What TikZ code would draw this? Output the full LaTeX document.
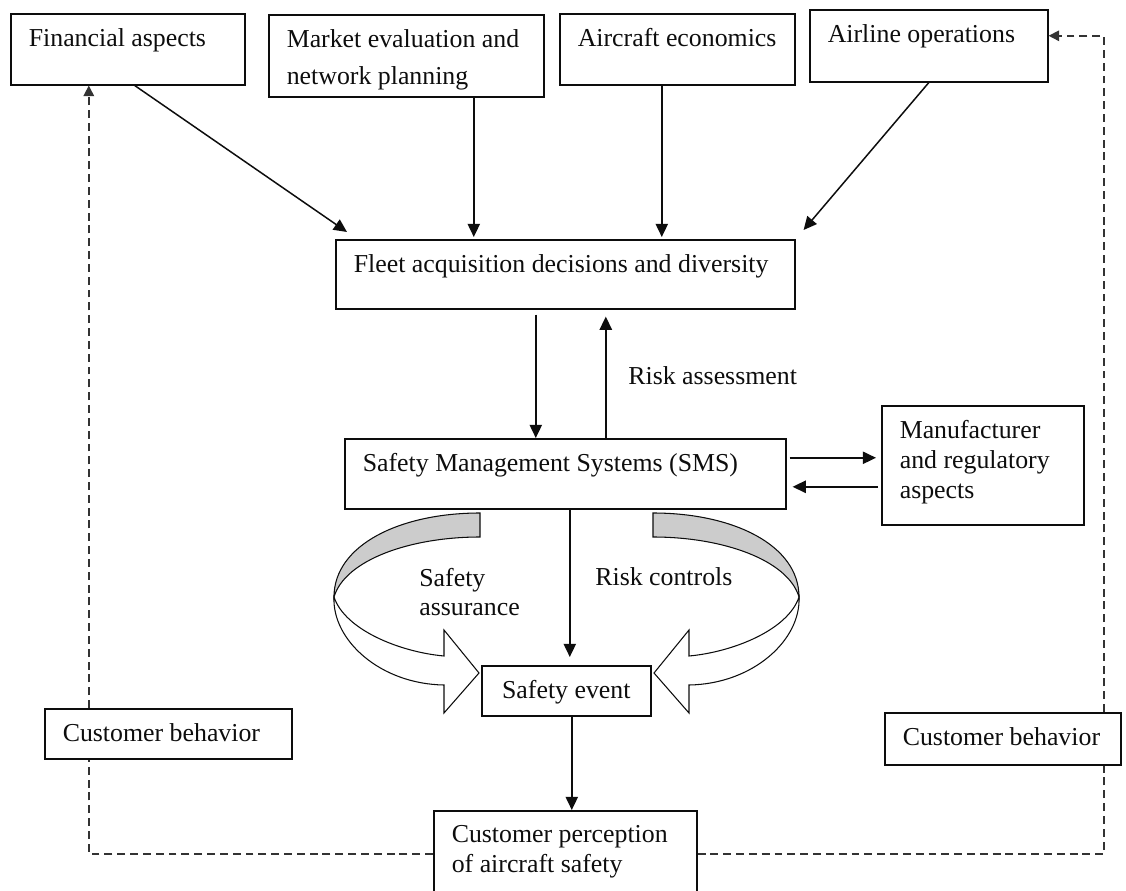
\documentclass[tikz,border=0pt]{standalone}
\usepackage{fontspec}
\setmainfont{Liberation Serif}
\usepackage{tikz}
\usetikzlibrary{arrows.meta,positioning}
\definecolor{FigureInk}{gray}{0.05}
\definecolor{FeedbackInk}{gray}{0.2}
\definecolor{BandShade}{gray}{0.8}
\newcommand{\BoxText}[3]{%
  \parbox[t][\dimexpr#2cm-0.6cm\relax][t]{\dimexpr#1cm-0.72cm\relax}{#3}%
}
\tikzset{
  diagram/.style={font=\fontsize{14.7}{17}\selectfont,text=FigureInk},
  block/.style={draw=FigureInk,line width=0.9pt,anchor=north west,inner xsep=0.36cm,inner ysep=0.3cm},
  flow/.style={-{Triangle[length=7.5pt,width=7pt]},line width=0.85pt,draw=FigureInk},
  feedback/.style={draw=FeedbackInk,line width=0.9pt,dash pattern=on 4.5pt off 2.8pt},
  feedtip/.style={-{Triangle[length=6pt,width=6pt]}},
  band/.style={draw=FigureInk,line width=0.6pt},
  note/.style={inner sep=0pt,anchor=west,align=left},
}
\begin{document}
\begin{tikzpicture}[diagram]
  \useasboundingbox (0,0) rectangle (22.52,17.8);

  \node[block] (fin) at (0.2,17.54) {\BoxText{4.68}{1.42}{Financial aspects}};
  \node[block] (mkt) at (5.36,17.52) {\BoxText{5.5}{1.64}{Market evaluation and\\[4pt]network planning}};
  \node[block] (acon) at (11.18,17.54) {\BoxText{4.7}{1.42}{Aircraft economics}};
  \node[block] (air) at (16.18,17.62) {\BoxText{4.76}{1.44}{Airline operations}};

  \node[block] (fleet) at (6.70,13.02) {\BoxText{9.18}{1.38}{Fleet acquisition decisions and diversity}};
  \node[block] (sms) at (6.88,9.04) {\BoxText{8.82}{1.40}{Safety Management Systems (SMS)}};
  \node[block] (manu) at (17.62,9.70) {\BoxText{4.04}{2.38}{Manufacturer\\and regulatory\\aspects}};
  \node[block] (ev) at (9.62,4.50) {\BoxText{3.38}{1.0}{\centering Safety event}};
  \node[block] (cbl) at (0.88,3.64) {\BoxText{4.94}{1.0}{Customer behavior}};
  \node[block] (cbr) at (17.68,3.56) {\BoxText{4.72}{1.04}{Customer behavior}};
  \node[block] (perc) at (8.66,1.60) {\BoxText{5.26}{1.9}{Customer perception\\of aircraft safety}};

  \node[note] (riskassess) at (12.56,10.28) {Risk assessment};
  \node[note] (riskctrl) at (11.9,6.26) {Risk controls};
  \node[note] (assure) at (8.38,5.96) {Safety\\assurance};

  \foreach \side in {1,-1}{
    \begin{scope}[shift={(11.33,0)},xscale=\side]
      \filldraw[band,fill=BandShade] (-1.73,7.54) .. controls (-3.33,7.54) and (-4.65,6.90) .. (-4.65,5.86)
        .. controls (-4.43,6.60) and (-3.13,7.06) .. (-1.73,7.06) -- cycle;
      \filldraw[band,fill=white] (-4.65,5.86) .. controls (-4.43,5.20) and (-3.33,4.76) .. (-2.45,4.68)
        -- (-2.45,5.20) -- (-1.75,4.34) -- (-2.45,3.54) -- (-2.45,4.10)
        .. controls (-3.73,4.12) and (-4.69,5.0) .. (-4.65,5.86) -- cycle;
    \end{scope}
  }

  \draw[flow] ([xshift=0.14cm]fin.south) -- ([shift={(0.24,0.14)}]fleet.north west);
  \draw[flow,shorten >=0.04cm] ([xshift=1.35cm]mkt.south) -- ([xshift=1.35cm]mkt.south |- fleet.north);
  \draw[flow,shorten >=0.04cm] ([xshift=-0.31cm]acon.south) -- ([xshift=-0.31cm]acon.south |- fleet.north);
  \draw[flow] (air.south) -- ([shift={(0.16,0.18)}]fleet.north east);

  \draw[flow,shorten <=0.1cm] ([xshift=-0.59cm]fleet.south) -- ([xshift=-0.59cm]fleet.south |- sms.north);
  \draw[flow,shorten >=0.14cm] ([xshift=0.81cm]sms.north) -- ([xshift=0.81cm]sms.north |- fleet.south);
  \draw[flow,shorten <=0.06cm,shorten >=0.1cm] ([yshift=0.32cm]sms.east) -- ([yshift=0.32cm]sms.east -| manu.west);
  \draw[flow,shorten <=0.06cm,shorten >=0.12cm] ([yshift=-0.26cm]sms.east -| manu.west) -- ([yshift=-0.26cm]sms.east);
  \draw[flow,shorten >=0.16cm] ([xshift=0.09cm]sms.south) -- ([xshift=0.09cm]sms.south |- ev.north);
  \draw[flow] ([xshift=0.11cm]ev.south) -- ([xshift=0.11cm]ev.south |- perc.north);

  \draw[feedback] ([yshift=0.09cm]perc.west) -| ([xshift=-1.59cm]cbl.south);
  \draw[feedback,feedtip] ([xshift=-1.59cm]cbl.north) -- ([xshift=-1.59cm]cbl.north |- fin.south);
  \draw[feedback] ([yshift=0.09cm]perc.east) -| ([xshift=2.02cm]cbr.south);
  \draw[feedback,feedtip] ([xshift=2.02cm]cbr.north) |- ([yshift=0.2cm]air.east);
\end{tikzpicture}
\end{document}
